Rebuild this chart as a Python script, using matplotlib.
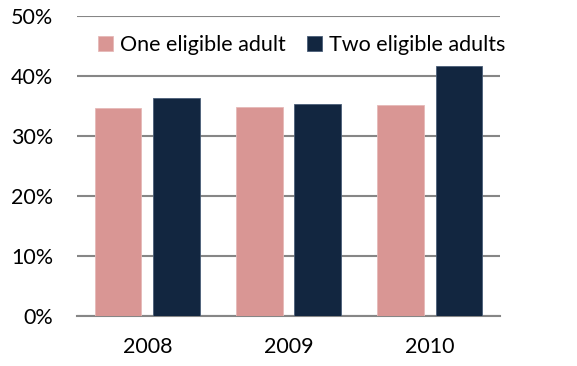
import matplotlib.pyplot as plt
import numpy as np
from matplotlib.ticker import PercentFormatter

years = ['2008', '2009', '2010']
one_adult = [34.6, 34.9, 35.1]
two_adults = [36.4, 35.4, 41.7]

plt.rcParams['font.family'] = ['Lato', 'DejaVu Sans']

fig = plt.figure(figsize=(5.77, 3.66), dpi=100)
ax = fig.add_axes([0.1334, 0.1366, 0.7332, 0.8197])

x = np.arange(len(years))
w = 0.333
off = 0.209
ax.bar(x - off, one_adult, width=w, color='#D99694', edgecolor='#E6B9B8',
       linewidth=0.6, label='One eligible adult', zorder=3)
ax.bar(x + off, two_adults, width=w, color='#122640', edgecolor='#4A5E78',
       linewidth=0.6, label='Two eligible adults', zorder=3)

ax.set_xlim(-0.5, 2.5)
ax.set_ylim(0, 50)
ax.set_yticks(range(0, 51, 10))
ax.yaxis.set_major_formatter(PercentFormatter(decimals=0))
ax.set_xticks(x)
ax.set_xticklabels(years)
ax.tick_params(length=0, labelsize=15.5, colors='black')
ax.tick_params(axis='y', pad=17)
ax.tick_params(axis='x', pad=15)
ax.grid(axis='y', color='#868686', linewidth=1.5, zorder=0)
for s in ['left', 'right', 'top']:
    ax.spines[s].set_visible(False)
ax.spines['bottom'].set_color('#868686')
ax.spines['bottom'].set_linewidth(1.5)

leg = ax.legend(loc='upper left', bbox_to_anchor=(0.03, 0.965), ncol=2,
                frameon=False, fontsize=15.5, handlelength=0.7,
                handleheight=0.7, handletextpad=0.3, columnspacing=1.0,
                borderaxespad=0)

fig.savefig('out.png', dpi=100)
